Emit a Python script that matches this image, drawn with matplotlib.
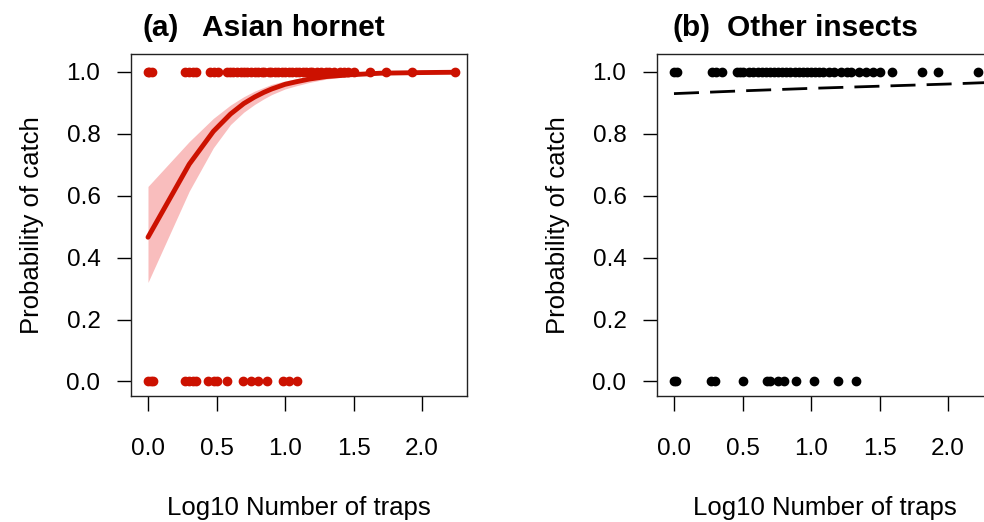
import matplotlib
matplotlib.use("Agg")
import matplotlib.pyplot as plt

plt.rcParams["font.family"] = ["Liberation Sans", "DejaVu Sans"]

# (a) Asian hornet - observed catches (log10 number of traps)
hornet_caught = [0.0, 0.01, 0.03, 0.27, 0.30, 0.33, 0.35, 0.45, 0.48, 0.51,
                 0.58, 0.60, 0.62, 0.65, 0.68, 0.70, 0.72, 0.75, 0.78, 0.80,
                 0.83, 0.85, 0.88, 0.90, 0.93, 0.95, 0.98, 1.00, 1.03, 1.05,
                 1.08, 1.10, 1.13, 1.15, 1.18, 1.20, 1.23, 1.26, 1.30, 1.32,
                 1.36, 1.40, 1.43, 1.46, 1.50, 1.62, 1.74, 1.93, 2.24]
hornet_missed = [0.0, 0.02, 0.04, 0.27, 0.30, 0.33, 0.35, 0.44, 0.48, 0.50,
                 0.58, 0.69, 0.75, 0.80, 0.87, 0.985, 1.03, 1.09]

# fitted curve and confidence band for (a)
fit_x = [0.0, 0.301, 0.477, 0.602, 0.699, 0.778, 0.845, 0.903, 1.0, 1.079,
         1.176, 1.301, 1.477, 1.7, 2.0, 2.24]
fit_y = [0.466, 0.702, 0.808, 0.864, 0.898, 0.919, 0.934, 0.945, 0.960, 0.968,
         0.977, 0.985, 0.991, 0.996, 0.998, 0.999]
fit_lo = [0.32, 0.615, 0.755, 0.83, 0.87, 0.895, 0.913, 0.927, 0.945, 0.955,
          0.966, 0.977, 0.986, 0.993, 0.997, 0.999]
fit_hi = [0.63, 0.775, 0.85, 0.893, 0.92, 0.938, 0.95, 0.96, 0.971, 0.978,
          0.985, 0.991, 0.995, 0.998, 0.999, 1.0]

# (b) Other insects
other_caught = [0.0, 0.02, 0.28, 0.31, 0.35, 0.46, 0.48, 0.50,
                0.55, 0.58, 0.61, 0.64, 0.67, 0.70, 0.73, 0.76, 0.79, 0.82,
                0.85, 0.88, 0.91, 0.94, 0.97, 1.00, 1.03, 1.06, 1.09, 1.13,
                1.17, 1.22, 1.26, 1.29, 1.35, 1.40, 1.45, 1.50, 1.59, 1.81,
                1.93, 2.22]
other_missed = [0.0, 0.015, 0.27, 0.30, 0.50, 0.68, 0.70, 0.76, 0.80, 0.89,
                1.02, 1.20, 1.33]
other_fit_x = [0.0, 0.5, 1.0, 1.5, 2.0, 2.3]
other_fit_y = [0.930, 0.939, 0.947, 0.954, 0.961, 0.966]

xticks = [0.0, 0.5, 1.0, 1.5, 2.0]
yticks = [0.0, 0.2, 0.4, 0.6, 0.8, 1.0]

RED = "#CC1100"
PINK = "#F9BDBD"

fig = plt.figure(figsize=(9.84, 5.22), dpi=100)
ax1 = fig.add_axes([131 / 984, 1 - 396 / 522, 336 / 984, 342 / 522])
ax2 = fig.add_axes([657 / 984, 1 - 396 / 522, 336 / 984, 342 / 522])


def style_axes(ax):
    ax.set_xlim(-0.124, 2.328)
    ax.set_ylim(-0.047, 1.058)
    ax.set_xticks(xticks)
    ax.set_xticklabels([f"{t:.1f}" for t in xticks])
    ax.set_yticks(yticks)
    ax.set_yticklabels([f"{t:.1f}" for t in yticks])
    ax.tick_params(axis="x", direction="out", length=11, width=1.0,
                   pad=19, labelsize=17.5)
    ax.tick_params(axis="y", direction="out", length=10, width=1.0,
                   pad=12, labelsize=17.5)
    for s in ax.spines.values():
        s.set_linewidth(1.0)
        s.set_color("#222222")
    ax.set_xlabel("Log10 Number of traps", fontsize=18.5, labelpad=26)
    ax.set_ylabel("Probability of catch", fontsize=18.5, labelpad=16)


# panel (a)
ax1.fill_between(fit_x, fit_lo, fit_hi, color=PINK, lw=0, zorder=1)
ax1.plot(fit_x, fit_y, color=RED, lw=3.5, zorder=3, solid_capstyle="round")
ax1.plot(hornet_caught, [1.0] * len(hornet_caught), "o", color=RED, ms=6,
         mec=RED, zorder=2)
ax1.plot(hornet_missed, [0.0] * len(hornet_missed), "o", color=RED, ms=6,
         mec=RED, zorder=2)
style_axes(ax1)

# panel (b)
ax2.plot(other_caught, [1.0] * len(other_caught), "o", color="black", ms=6)
ax2.plot(other_missed, [0.0] * len(other_missed), "o", color="black", ms=6)
ax2.plot(other_fit_x, other_fit_y, color="black", lw=2, dashes=(9, 4))
style_axes(ax2)

# titles
title_y = 1 - 36 / 522
fig.text(142 / 984, title_y, "(a)", fontsize=21.5, fontweight="bold",
         va="baseline", ha="left")
fig.text(202 / 984, title_y, "Asian hornet", fontsize=21.5,
         fontweight="bold", va="baseline", ha="left")
fig.text(673 / 984, title_y, "(b)", fontsize=21.5, fontweight="bold",
         va="baseline", ha="left")
fig.text(727 / 984, title_y, "Other insects", fontsize=21.5,
         fontweight="bold", va="baseline", ha="left")

fig.savefig("out.png", dpi=100)
